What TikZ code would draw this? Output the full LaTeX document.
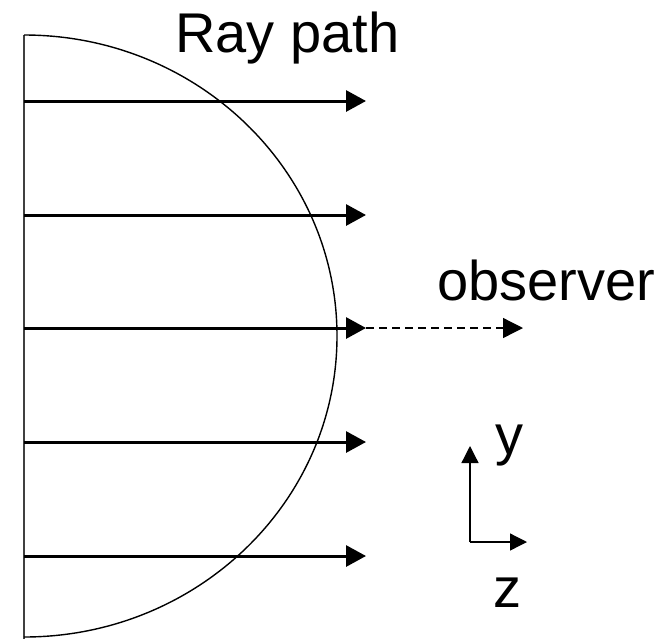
\documentclass[tikz,border=0pt]{standalone}
\usepackage{fontspec}
\setmainfont{Liberation Sans}
\usetikzlibrary{arrows.meta}

\tikzset{
  ray/.style={line width=3pt, -{Triangle[length=20pt,width=21pt]}},
  toobs/.style={line width=1.3pt, dash pattern=on 8pt off 5pt, -{Triangle[length=20pt,width=20pt]}},
  axis/.style={line width=1.3pt, -{Triangle[length=17pt,width=17pt]}},
  lbl/.style={inner sep=0pt, anchor=base west, font=\fontsize{56pt}{60pt}\selectfont}
}

\begin{document}
\begin{tikzpicture}[x=1pt, y=-1pt]
\useasboundingbox (0,0) rectangle (666,638);
% half disk
\draw[line width=2pt, black!75] (24,35) -- (24,640);
\draw[line width=1.4pt] (24,35) arc[start angle=-90, end angle=90, x radius=313, y radius=301];
% rays
\foreach \i/\yy in {1/101, 2/215, 3/328, 4/442, 5/556} {
  \coordinate (s\i) at (24,\yy);
  \coordinate (e\i) at (366,\yy);
  \draw[ray] (s\i) -- (e\i);
}
\coordinate (obs) at (523,328);
\draw[toobs] (e3) -- (obs);
% axes
\coordinate (o) at (470,542);
\coordinate (ytip) at (470,446);
\coordinate (ztip) at (527,542);
\draw[axis] (o) -- (ytip);
\draw[axis] (o) -- (ztip);
\node[lbl] (raylbl) at (175,52) {Ray path};
\node[lbl] (obslbl) at (437,300) {observer};
\node[lbl] (ylbl) at (495,454) {y};
\node[lbl] (zlbl) at (493,607) {z};
\end{tikzpicture}
\end{document}
